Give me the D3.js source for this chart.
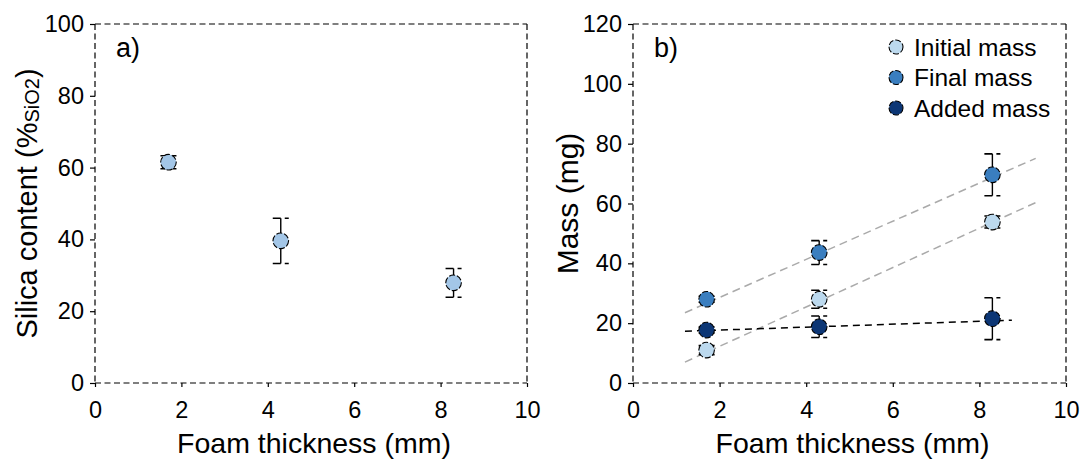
<!DOCTYPE html>
<html><head><meta charset="utf-8">
<script src="https://cdn.jsdelivr.net/npm/d3@7"></script>
<style>body{margin:0;background:#fff}text{font-family:"Liberation Sans",Arial,sans-serif;fill:#000}</style>
</head><body><svg id="c" width="1082" height="464"></svg>
<script>
// ---- data ----
const thickness = [1.7, 4.3, 8.3];
const silica = [61.5, 39.6, 27.9];
const silicaErr = [1.8, 6.3, 4.0];
const initialMass = [11.0, 28.0, 53.8];
const initialErr = [1.5, 3.0, 2.0];
const finalMass = [28.0, 43.6, 69.6];
const finalErr = [1.0, 4.0, 7.0];
const addedMass = [17.7, 18.8, 21.5];
const addedErr = [1.0, 3.6, 7.0];
const trendFinalX = [1.2, 9.3], trendFinalY = [23.5, 75.1];
const trendInitX = [1.2, 9.3], trendInitY = [7.0, 60.3];
const trendAddX = [1.2, 8.75], trendAddY = [17.3, 21.0];
const xTicks = [0, 2, 4, 6, 8, 10];
const yTicksA = [0, 20, 40, 60, 80, 100];
const yTicksB = [0, 20, 40, 60, 80, 100, 120];
const legendLabels = ["Initial mass", "Final mass", "Added mass"];
const colors = {silica: "#a3c6e7", initial: "#bcd9ee", final: "#3a7ebf", added: "#0c3675"};

const svg = d3.select("#c");
const plotTop = 24, plotBottom = 383;
const FONT = '"Liberation Sans",Arial,sans-serif';

function panel(left, right, yMax, yTicks, label) {
  const g = svg.append("g");
  const x = d3.scaleLinear().domain([0, 10]).range([left, right]);
  const y = d3.scaleLinear().domain([0, yMax]).range([plotBottom, plotTop]);
  const dash = "6,3.5";
  [[left, plotTop, right, plotTop], [right, plotTop, right, plotBottom], [left, plotBottom, right, plotBottom], [left, plotTop, left, plotBottom]]
    .forEach(s => g.append("line").attr("x1", s[0]).attr("y1", s[1]).attr("x2", s[2]).attr("y2", s[3])
      .attr("stroke", "#000").attr("stroke-width", 1.2).attr("stroke-dasharray", dash));
  const xa = g.append("g").attr("transform", `translate(0,${plotBottom})`)
    .call(d3.axisBottom(x).tickValues(xTicks).tickSize(4).tickPadding(14).tickFormat(d3.format("d")));
  const ya = g.append("g").attr("transform", `translate(${left},0)`)
    .call(d3.axisLeft(y).tickValues(yTicks).tickSize(5).tickPadding(6).tickFormat(d3.format("d")));
  [xa, ya].forEach(a => {
    a.select(".domain").remove();
    a.selectAll(".tick line").attr("stroke", "#000").attr("stroke-width", 1.2);
    a.selectAll(".tick text").attr("font-size", 23.5).attr("font-family", FONT);
  });
  g.append("text").attr("x", (left + right) / 2 + 3).attr("y", 453)
    .attr("text-anchor", "middle").attr("font-size", 28.5).text("Foam thickness (mm)");
  g.append("text").attr("x", left + 21).attr("y", 57).attr("font-size", 27).text(label);
  return {g, x, y};
}

function points(p, xs, ys, errs, color) {
  const g = p.g.append("g");
  xs.forEach((xv, i) => {
    const cx = p.x(xv), y1 = p.y(ys[i] + errs[i]), y2 = p.y(ys[i] - errs[i]);
    g.append("line").attr("x1", cx).attr("x2", cx).attr("y1", y1).attr("y2", y2)
      .attr("stroke", "#000").attr("stroke-width", 1.4);
    [y1, y2].forEach(yy => g.append("line").attr("x1", cx - 8).attr("x2", cx + 8).attr("y1", yy).attr("y2", yy)
      .attr("stroke", "#000").attr("stroke-width", 1.6).attr("stroke-dasharray", "8,4,4"));
  });
  g.selectAll("circle").data(xs).join("circle")
    .attr("cx", d => p.x(d)).attr("cy", (d, i) => p.y(ys[i])).attr("r", 7.8)
    .attr("fill", color).attr("stroke", "#000").attr("stroke-width", 1.1).attr("stroke-dasharray", "6,2");
}

function trend(p, xs, ys, color, dash) {
  p.g.append("path").datum(xs.map((d, i) => [d, ys[i]]))
    .attr("d", d3.line().x(d => p.x(d[0])).y(d => p.y(d[1])))
    .attr("fill", "none").attr("stroke", color).attr("stroke-width", 1.5).attr("stroke-dasharray", dash);
}

// Panel a
const pa = panel(95, 527, 100, yTicksA, "a)");
const ta = svg.append("text").attr("transform", `translate(37,${(plotTop + plotBottom) / 2}) rotate(-90)`)
  .attr("text-anchor", "middle").attr("font-size", 29);
ta.append("tspan").text("Silica content (%");
ta.append("tspan").attr("font-size", 20).attr("dy", 2).text("SiO2");
ta.append("tspan").attr("dy", -2).text(")");
points(pa, thickness, silica, silicaErr, colors.silica);

// Panel b
const pb = panel(633, 1066, 120, yTicksB, "b)");
svg.append("text").attr("transform", `translate(578,${(plotTop + plotBottom) / 2}) rotate(-90)`)
  .attr("text-anchor", "middle").attr("font-size", 30).text("Mass (mg)");
trend(pb, trendFinalX, trendFinalY, "#aaaaaa", "8,5");
trend(pb, trendInitX, trendInitY, "#aaaaaa", "8,5");
trend(pb, trendAddX, trendAddY, "#000", "7,5");
points(pb, thickness, initialMass, initialErr, colors.initial);
points(pb, thickness, finalMass, finalErr, colors.final);
points(pb, thickness, addedMass, addedErr, colors.added);

// legend
const lc = [colors.initial, colors.final, colors.added];
legendLabels.forEach((t, i) => {
  const yy = 47 + i * 30.5;
  svg.append("circle").attr("cx", 896).attr("cy", yy).attr("r", 7).attr("fill", lc[i])
    .attr("stroke", "#000").attr("stroke-width", 1.1).attr("stroke-dasharray", "6,2");
  svg.append("text").attr("x", 914).attr("y", yy + 8.5).attr("font-size", 24.5).text(t);
});
</script></body></html>
